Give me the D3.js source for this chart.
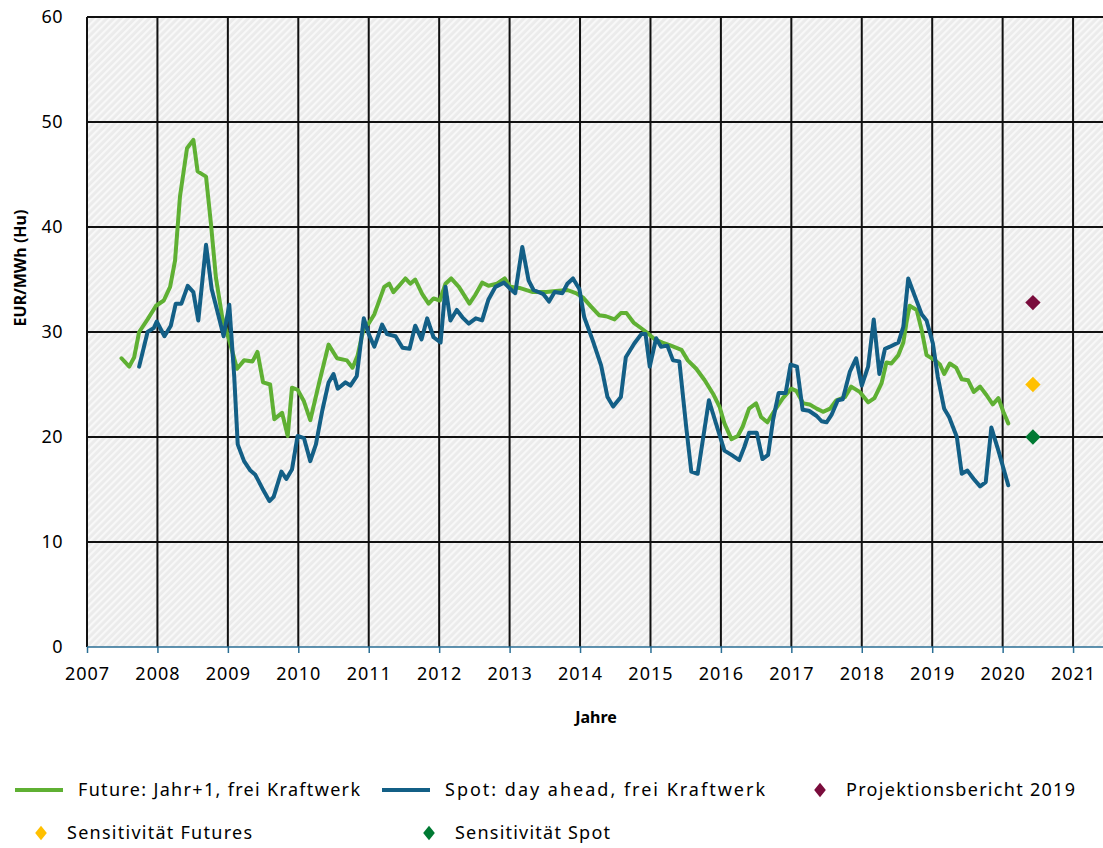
<!DOCTYPE html>
<html>
<head>
<meta charset="utf-8">
<script src="https://cdn.jsdelivr.net/npm/d3@7"></script>
<style>
  body { margin: 0; background: #fff; }
  svg text { font-family: "Noto Sans", "Open Sans", sans-serif; fill: #000; }
</style>
</head>
<body>
<svg id="svg" width="1103" height="848"></svg>
<script>
// Future: Jahr+1, frei Kraftwerk (decimal year, EUR/MWh)
const futureT = [2007.49,2007.60,2007.67,2007.74,2007.86,2007.98,2008.09,2008.18,2008.25,2008.32,2008.42,2008.51,2008.57,2008.69,2008.76,2008.83,2008.92,2009.02,2009.13,2009.23,2009.35,2009.42,2009.50,2009.60,2009.66,2009.77,2009.85,2009.91,2009.99,2010.08,2010.17,2010.29,2010.43,2010.55,2010.69,2010.77,2010.84,2010.93,2011.00,2011.08,2011.22,2011.29,2011.35,2011.43,2011.52,2011.59,2011.66,2011.76,2011.85,2011.92,2012.01,2012.09,2012.17,2012.28,2012.43,2012.51,2012.61,2012.70,2012.82,2012.93,2013.01,2013.14,2013.33,2013.52,2013.66,2013.82,2013.94,2014.04,2014.16,2014.27,2014.37,2014.49,2014.58,2014.66,2014.76,2014.84,2014.94,2015.06,2015.17,2015.29,2015.44,2015.53,2015.65,2015.77,2015.89,2015.98,2016.05,2016.15,2016.24,2016.31,2016.40,2016.50,2016.57,2016.66,2016.76,2016.88,2017.00,2017.07,2017.17,2017.26,2017.36,2017.45,2017.55,2017.64,2017.76,2017.85,2017.97,2018.09,2018.18,2018.28,2018.35,2018.42,2018.52,2018.59,2018.64,2018.68,2018.78,2018.85,2018.92,2019.04,2019.11,2019.17,2019.25,2019.34,2019.42,2019.51,2019.59,2019.68,2019.77,2019.86,2019.94,2020.01,2020.08];
const futureV = [27.5,26.7,27.6,30.0,31.2,32.5,33.0,34.3,36.8,42.9,47.5,48.3,45.3,44.8,40.3,35.2,31.4,29.2,26.5,27.3,27.2,28.1,25.2,25.0,21.7,22.3,20.1,24.7,24.5,23.4,21.6,25.0,28.8,27.5,27.3,26.6,27.7,30.4,30.8,31.7,34.3,34.6,33.8,34.4,35.1,34.6,35.0,33.6,32.7,33.2,33.0,34.6,35.1,34.3,32.7,33.5,34.7,34.4,34.6,35.1,34.3,34.2,33.8,33.8,33.9,34.0,33.7,33.3,32.4,31.6,31.5,31.2,31.8,31.8,30.9,30.5,30.0,29.3,29.0,28.7,28.3,27.3,26.5,25.4,24.1,22.9,21.3,19.8,20.1,21.0,22.7,23.2,21.9,21.4,22.5,23.7,24.6,24.4,23.2,23.1,22.7,22.4,22.7,23.5,23.8,24.8,24.3,23.3,23.7,25.1,27.1,27.0,27.8,29.0,31.1,32.5,32.1,30.2,27.8,27.3,26.9,26.0,27.0,26.6,25.5,25.4,24.3,24.8,24.0,23.1,23.7,22.4,21.3];

// Spot: day ahead, frei Kraftwerk
const spotT = [2007.74,2007.86,2007.95,2007.99,2008.10,2008.19,2008.26,2008.34,2008.43,2008.51,2008.58,2008.69,2008.77,2008.85,2008.94,2009.02,2009.09,2009.14,2009.23,2009.32,2009.39,2009.49,2009.59,2009.65,2009.76,2009.83,2009.91,2009.99,2010.08,2010.17,2010.25,2010.34,2010.43,2010.50,2010.56,2010.67,2010.74,2010.83,2010.93,2011.00,2011.08,2011.19,2011.26,2011.38,2011.48,2011.58,2011.66,2011.75,2011.83,2011.92,2012.02,2012.09,2012.16,2012.25,2012.33,2012.42,2012.52,2012.61,2012.70,2012.80,2012.92,2013.01,2013.08,2013.18,2013.27,2013.34,2013.48,2013.56,2013.64,2013.75,2013.82,2013.90,2013.99,2014.06,2014.18,2014.30,2014.39,2014.47,2014.58,2014.65,2014.77,2014.87,2014.93,2014.99,2015.08,2015.15,2015.24,2015.32,2015.41,2015.51,2015.58,2015.67,2015.75,2015.83,2015.93,2016.05,2016.15,2016.26,2016.33,2016.40,2016.51,2016.59,2016.67,2016.74,2016.82,2016.92,2016.99,2017.08,2017.16,2017.25,2017.36,2017.43,2017.50,2017.57,2017.66,2017.73,2017.83,2017.92,2018.00,2018.09,2018.17,2018.25,2018.33,2018.40,2018.52,2018.59,2018.66,2018.76,2018.85,2018.92,2019.01,2019.08,2019.17,2019.24,2019.35,2019.42,2019.50,2019.59,2019.68,2019.76,2019.84,2019.94,2020.08];
const spotV = [26.7,30.0,30.4,31.0,29.6,30.6,32.7,32.7,34.4,33.8,31.1,38.3,34.1,32.0,29.6,32.6,25.8,19.3,17.7,16.8,16.4,15.1,13.9,14.3,16.7,16.0,16.9,20.1,19.9,17.7,19.3,22.5,25.2,26.0,24.6,25.2,24.9,25.8,31.3,29.8,28.6,30.7,29.8,29.6,28.5,28.4,30.6,29.3,31.3,29.5,29.0,34.3,31.1,32.1,31.4,30.8,31.3,31.1,33.1,34.3,34.7,34.1,33.7,38.1,34.9,34.0,33.6,32.9,33.8,33.7,34.6,35.1,34.1,31.4,29.2,26.8,23.8,22.9,23.8,27.6,28.9,29.8,29.8,26.7,29.4,28.6,28.7,27.3,27.2,20.8,16.7,16.5,20.0,23.5,21.3,18.7,18.3,17.8,19.0,20.4,20.4,17.9,18.3,21.6,24.2,24.2,26.9,26.7,22.6,22.5,22.0,21.5,21.4,22.1,23.5,23.6,26.2,27.5,24.9,26.7,31.2,26.0,28.4,28.6,29.0,30.5,35.1,33.3,31.7,31.1,28.9,25.7,22.7,21.9,20.0,16.5,16.8,16.0,15.3,15.7,20.9,18.7,15.4];

// Einzelwerte 2020
const pointNames = ["Projektionsbericht 2019", "Sensitivität Futures", "Sensitivität Spot"];
const pointT = [2020.43, 2020.43, 2020.43];
const pointV = [32.8, 25.0, 20.0];
const pointColors = ["#7a0c3c", "#ffc000", "#007a33"];

const xTicks = d3.range(2007, 2022);
const yTicks = [0, 10, 20, 30, 40, 50, 60];

const svg = d3.select("#svg");
const margin = {top: 17, right: 0, bottom: 201, left: 87};
const W = +svg.attr("width"), H = +svg.attr("height");

const x = d3.scaleLinear().domain([2007, 2021.425]).range([margin.left, W - margin.right]);
const y = d3.scaleLinear().domain([0, 60]).range([H - margin.bottom, margin.top]);

// hatch background
const defs = svg.append("defs");
const pat = defs.append("pattern")
  .attr("id", "hatch")
  .attr("patternUnits", "userSpaceOnUse")
  .attr("width", 5).attr("height", 5)
  .attr("patternTransform", "rotate(45)");
pat.append("rect").attr("width", 5).attr("height", 5).attr("fill", "#ebebeb");
pat.append("rect").attr("width", 2.2).attr("height", 5).attr("fill", "#f8f8f8");

svg.append("rect")
  .attr("x", x(2007)).attr("y", y(60))
  .attr("width", x.range()[1] - x(2007))
  .attr("height", y(0) - y(60))
  .attr("fill", "url(#hatch)");

// grid
svg.append("g").selectAll("line")
  .data(yTicks.filter(d => d > 0))
  .join("line")
  .attr("x1", x(2007)).attr("x2", W)
  .attr("y1", d => y(d)).attr("y2", d => y(d))
  .attr("stroke", "#111").attr("stroke-width", 2);

svg.append("g").selectAll("line")
  .data(xTicks)
  .join("line")
  .attr("x1", d => x(d)).attr("x2", d => x(d))
  .attr("y1", y(60)).attr("y2", y(0))
  .attr("stroke", "#111").attr("stroke-width", 2);

// y axis labels
svg.append("g").selectAll("text")
  .data(yTicks)
  .join("text")
  .attr("x", 63).attr("y", d => y(d) + 6)
  .attr("text-anchor", "end")
  .attr("font-size", 18)
  .attr("letter-spacing", 0.5)
  .text(d => d);

// x axis
const xAxis = svg.append("g")
  .attr("transform", `translate(0,${y(0)})`)
  .call(d3.axisBottom(x).tickValues(xTicks).tickFormat(d3.format("d")).tickSize(6).tickPadding(14));
xAxis.select(".domain").attr("stroke", "#2a6e94").attr("stroke-width", 1.5).attr("d", `M${x(2007)},0H${W}`);
xAxis.selectAll(".tick line").attr("stroke", "#2a6e94").attr("stroke-width", 1.5);
xAxis.selectAll(".tick text")
  .attr("font-size", 18).attr("font-family", "Noto Sans")
  .attr("letter-spacing", 1).attr("fill", "#000");

// titles
svg.append("text")
  .attr("x", 596).attr("y", 723)
  .attr("text-anchor", "middle")
  .attr("font-size", 16).attr("font-weight", "bold")
  .text("Jahre");

svg.append("text")
  .attr("transform", `translate(26,268) rotate(-90)`)
  .attr("text-anchor", "middle")
  .attr("font-size", 16).attr("font-weight", "bold")
  .text("EUR/MWh (Hu)");

// lines
const line = d3.line()
  .x(d => x(d[0]))
  .y(d => y(d[1]));

svg.append("path")
  .datum(d3.zip(futureT, futureV))
  .attr("fill", "none")
  .attr("stroke", "#5fb033")
  .attr("stroke-width", 4)
  .attr("stroke-linejoin", "round")
  .attr("stroke-linecap", "round")
  .attr("d", line);

svg.append("path")
  .datum(d3.zip(spotT, spotV))
  .attr("fill", "none")
  .attr("stroke", "#135f86")
  .attr("stroke-width", 4)
  .attr("stroke-linejoin", "round")
  .attr("stroke-linecap", "round")
  .attr("d", line);

// diamonds
const diamond = d3.symbol().type(d3.symbolDiamond2).size(150);
svg.append("g").selectAll("path")
  .data(pointV)
  .join("path")
  .attr("transform", (d, i) => `translate(${x(pointT[i])},${y(d)})`)
  .attr("d", diamond)
  .attr("fill", (d, i) => pointColors[i]);

// legend
const legend = svg.append("g").attr("font-size", 18);
function legendText(x0, yy, label, len) {
  legend.append("text")
    .attr("x", x0).attr("y", yy + 6)
    .attr("textLength", len).attr("lengthAdjust", "spacing")
    .text(label);
}
function legendLine(x0, yy, color, label, len) {
  legend.append("line")
    .attr("x1", x0).attr("x2", x0 + 48).attr("y1", yy).attr("y2", yy)
    .attr("stroke", color).attr("stroke-width", 4);
  legendText(x0 + 63, yy, label, len);
}
function legendDiamond(cx, yy, color, label, len) {
  legend.append("path")
    .attr("transform", `translate(${cx},${yy}) scale(0.85,1.05)`)
    .attr("d", d3.symbol().type(d3.symbolDiamond2).size(120))
    .attr("fill", color);
  legendText(cx + 26, yy, label, len);
}
legendLine(15, 790, "#5fb033", "Future: Jahr+1, frei Kraftwerk", 282);
legendLine(382, 790, "#135f86", "Spot: day ahead, frei Kraftwerk", 320);
legendDiamond(820, 790, pointColors[0], pointNames[0], 229);
legendDiamond(41, 833, pointColors[1], pointNames[1], 185);
legendDiamond(429, 833, pointColors[2], pointNames[2], 155);
</script>
</body>
</html>
